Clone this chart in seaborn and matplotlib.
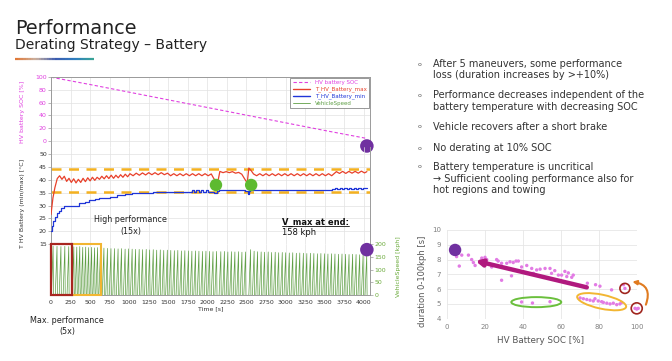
import numpy as np
import matplotlib
matplotlib.use("Agg")
import matplotlib.pyplot as plt
import seaborn as sns
from matplotlib.patches import Rectangle, Ellipse
from matplotlib.lines import Line2D
from matplotlib.collections import LineCollection
from matplotlib.colors import LinearSegmentedColormap
from matplotlib.transforms import ScaledTranslation

sns.set_theme(style="white")
plt.rcParams['font.family'] = ['DejaVu Sans']

# ---------------- data: main time chart ----------------
time_ticks = [0, 250, 500, 750, 1000, 1250, 1500, 1750, 2000, 2250, 2500,
              2750, 3000, 3250, 3500, 3750, 4000]
soc_ticks = [0, 20, 40, 60, 80, 100]
temp_ticks = [15, 20, 25, 30, 35, 40, 45, 50]
speed_ticks = [0, 50, 100, 150, 200]

soc_time = [0, 500, 1000, 1500, 2000, 2500, 3000, 3500, 4040]
soc_pct = [100, 88.5, 76.5, 64.5, 52.5, 40.5, 28.5, 16.5, 4]

tmax_time = [0, 25, 50, 80, 110, 140, 170, 200, 230, 260,
             290, 320, 350, 380, 410, 440, 470, 500, 530, 560,
             590, 620, 650, 680, 710, 740, 770, 800, 830, 860,
             890, 920, 950, 980, 1010, 1050, 1090, 1130, 1170, 1210,
             1250, 1290, 1330, 1370, 1410, 1450, 1490, 1530, 1570, 1610,
             1650, 1690, 1730, 1770, 1810, 1850, 1890, 1930, 1970, 2010,
             2050, 2080, 2110, 2140, 2160, 2200, 2240, 2280, 2320, 2360,
             2400, 2440, 2480, 2510, 2530, 2560, 2590, 2630, 2670, 2710,
             2750, 2790, 2830, 2870, 2910, 2950, 2990, 3030, 3070, 3110,
             3150, 3190, 3230, 3270, 3310, 3350, 3390, 3430, 3470, 3510,
             3550, 3590, 3620, 3650, 3690, 3730, 3770, 3810, 3850, 3890,
             3930, 3970, 4010, 4040]
tmax_val = [26.5, 33.0, 37.0, 40.5, 41.6, 40.2, 41.4, 39.4, 40.6, 39.0,
            40.4, 38.8, 40.2, 39.0, 40.6, 39.3, 40.8, 39.6, 41.0, 39.8,
            41.0, 40.2, 41.4, 40.4, 41.6, 40.5, 41.8, 40.6, 41.8, 40.8,
            42.0, 41.0, 42.2, 41.2, 42.4, 41.6, 42.6, 41.8, 42.7, 41.9,
            42.8, 42.0, 42.8, 42.0, 42.8, 42.0, 42.6, 41.6, 42.4, 41.6,
            42.4, 41.6, 42.4, 41.6, 42.4, 41.6, 42.4, 41.6, 42.4, 41.6,
            42.3, 40.6, 39.4, 40.2, 43.3, 42.8, 43.2, 42.8, 43.2, 42.6,
            42.9, 42.2, 40.2, 38.8, 44.6, 43.6, 42.3, 41.6, 42.4, 41.6,
            42.4, 41.6, 42.4, 41.6, 42.4, 41.6, 42.4, 41.6, 42.4, 41.6,
            42.4, 41.6, 42.4, 41.6, 42.4, 41.6, 42.4, 41.6, 42.4, 41.6,
            42.4, 41.6, 42.4, 43.2, 42.5, 43.3, 42.5, 43.3, 42.6, 43.3,
            42.6, 43.4, 42.7, 43.2]

tmin_time = [0, 15, 30, 50, 75, 100, 130, 165, 360, 430,
             490, 560, 620, 750, 850, 950, 1040, 1300, 1750, 1800,
             1830, 1860, 1890, 1920, 1950, 1980, 2010, 2050, 2090, 2120,
             2150, 2480, 2515, 2530, 2545, 3600, 3630, 3660, 3690, 3720,
             3750, 3780, 3810, 3840, 3870, 3900, 3930, 3960, 3990, 4040]
tmin_val = [20.0, 22.0, 24.0, 25.5, 27.0, 28.0, 29.0, 30.0, 31.0, 31.5,
            32.0, 32.5, 33.0, 33.5, 34.0, 34.5, 35.0, 35.2, 35.4, 35.9,
            35.4, 35.9, 35.4, 35.9, 35.4, 35.9, 35.4, 35.4, 35.0, 35.5,
            36.0, 35.6, 34.3, 35.5, 36.0, 36.6, 37.0, 36.5, 37.0, 36.5,
            37.0, 36.5, 37.0, 36.5, 37.0, 36.5, 37.0, 36.5, 37.0, 37.0]

limit_temps = [44.3, 35.4]

speed_start = [5, 55, 105, 155, 205,
               270, 308, 346, 384, 422, 460, 498, 536, 574, 612,
               655, 700, 745, 790, 836, 880, 926, 970, 1016, 1060,
               1106, 1150, 1196, 1240, 1286, 1330, 1376, 1420, 1466, 1510,
               1556, 1600, 1646, 1690, 1736, 1780, 1826, 1870, 1916, 1960,
               2006, 2050, 2096, 2150, 2196, 2240, 2286, 2330, 2376, 2420,
               2466,
               2530, 2576, 2620, 2666, 2710, 2756, 2800, 2846, 2890, 2936,
               2980, 3026, 3070, 3116, 3160, 3206, 3250, 3296, 3340, 3386,
               3430, 3476, 3520, 3566, 3610, 3656, 3700, 3746, 3790, 3836,
               3880, 3926, 3970, 4016]
speed_peak = [192, 191, 190, 191, 190,
              189, 188, 190, 187, 188, 186, 187, 185, 186, 184,
              184, 183, 182, 182, 181, 182, 180, 181, 180, 179,
              179, 178, 179, 177, 178, 176, 177, 175, 176, 175,
              174, 175, 173, 174, 173, 172, 173, 172, 171, 172,
              171, 170, 171, 170, 171, 169, 170, 169, 170, 168,
              169,
              178, 172, 170, 169, 168, 169, 167, 168, 166, 167,
              166, 165, 166, 164, 165, 164, 163, 164, 163, 162,
              163, 162, 161, 162, 161, 160, 161, 160, 159, 160,
              159, 158, 159, 158]

recover_time = [2110, 2560]
recover_temp = [38.0, 38.0]
end_time = [4040]
end_soc = [-7.8]
end_speed = [178]

series_labels = ["HV battery SOC", "T_HV_Battery_max", "T_HV_Battery_min", "VehicleSpeed"]

# ---------------- data: scatter chart ----------------
scatter_soc = [6.1, 7.9, 5.2, 6.6, 11.4, 13.1, 14.0, 14.9, 18.4, 20.1,
               21.0, 23.6, 26.2, 27.0, 28.8, 28.8, 31.5, 33.2, 34.0, 34.9,
               36.4, 37.6, 39.3, 42.0, 44.6, 45.5, 47.2, 49.0, 51.6, 54.2,
               55.0, 56.7, 58.6, 60.3, 62.0, 63.0, 63.8, 65.6, 66.4, 73.8,
               78.1, 80.4, 86.5, 92.7, 93.5, 70.0, 71.7, 73.5, 75.2, 76.9,
               77.8, 79.5, 81.3, 82.2, 84.0, 85.7, 87.4, 89.2, 90.9, 91.8,
               39.3, 45.0, 54.2, 98.8, 99.7, 100.5]
scatter_dur = [8.42, 8.3, 8.2, 7.56, 8.3, 8.0, 7.8, 7.6, 8.1, 8.15,
               8.0, 7.5, 8.0, 7.9, 7.75, 6.6, 7.75, 7.85, 6.9, 7.8,
               7.9, 7.9, 7.5, 7.6, 7.4, 7.07, 7.3, 7.35, 7.4, 7.4,
               7.07, 7.25, 6.95, 6.95, 7.2, 6.85, 7.1, 6.8, 6.95, 6.4,
               6.3, 6.2, 5.95, 6.3, 6.05, 5.4, 5.35, 5.3, 5.25, 5.2,
               5.35, 5.2, 5.15, 5.1, 5.05, 5.0, 5.05, 4.95, 5.0, 5.1,
               5.13, 5.06, 5.15, 4.7, 4.65, 4.7]
start_soc = [4.4]
start_dur = [8.65]
sc_xticks = [0, 20, 40, 60, 80, 100]
sc_yticks = [4, 5, 6, 7, 8, 9, 10]

bullets = [
    ["After 5 maneuvers, some performance", "loss (duration increases by >+10%)"],
    ["Performance decreases independent of the", "battery temperature with decreasing SOC"],
    ["Vehicle recovers after a short brake"],
    ["No derating at 10% SOC"],
    ["Battery temperature is uncritical", "\u2192 Sufficient cooling performance also for",
     "hot regions and towing"],
]

# ---------------- colours ----------------
MAG = '#e040e0'
RED = '#e8402a'
BLUE = '#1f35d8'
SPEED = '#5f9f45'
SPEED_LBL = '#6aaa3a'
ORANGE = '#f4b120'
PURPLE = '#7030a0'
DOTGREEN = '#5dba30'
GRID = '#e2e2e2'
SPINE = '#9a9a9a'

W_PX, H_PX = 672, 361
fig = plt.figure(figsize=(6.72, 3.61), dpi=100)
fig.patch.set_facecolor('white')


def fx(px):
    return px / W_PX


def fy(py):
    return 1 - py / H_PX


# ---------------- title ----------------
fig.text(fx(15), fy(34.5), "Performance", fontsize=13.8, color='#222222', va='baseline')
fig.text(fx(15), fy(49.5), "Derating Strategy \u2013 Battery", fontsize=10,
         color='#222222', va='baseline')
cmap = LinearSegmentedColormap.from_list(
    'bar', ['#e07a3a', '#c9b0a0', '#3a5bb0', '#2f7fc0', '#3aa890'])
nseg = 30
xs = np.linspace(fx(15), fx(94), nseg + 1)
segs = [[(xs[i], fy(59)), (xs[i + 1], fy(59))] for i in range(nseg)]
lc = LineCollection(segs, colors=[cmap(i / nseg) for i in range(nseg)], lw=1.6,
                    transform=fig.transFigure)
fig.add_artist(lc)

# ---------------- main chart axes ----------------
L = fx(51)
W = (370 - 51) / W_PX
ax_soc = fig.add_axes([L, fy(147), W, 70 / H_PX])
ax_t = fig.add_axes([L, fy(244), W, 97 / H_PX], sharex=ax_soc)
ax_v = fig.add_axes([L, fy(295.3), W, 51.3 / H_PX], sharex=ax_soc)

for ax in (ax_soc, ax_t, ax_v):
    ax.set_facecolor('none')
    ax.set_xlim(0, 4080)
    ax.set_xticks(time_ticks)
    ax.grid(True, axis='x', color=GRID, lw=0.5)
    ax.set_axisbelow(True)
    for s in ax.spines.values():
        s.set_color(SPINE)
        s.set_linewidth(0.7)

ax_soc.spines['bottom'].set_visible(False)
ax_t.spines['top'].set_visible(False)
ax_t.spines['bottom'].set_visible(False)
ax_v.spines['top'].set_visible(False)

ax_soc.tick_params(axis='x', bottom=False, labelbottom=False)
ax_t.tick_params(axis='x', bottom=False, labelbottom=False)

# SOC
ax_soc.set_ylim(-9.4, 100.3)
ax_soc.set_yticks(soc_ticks)
ax_soc.grid(True, axis='y', color=GRID, lw=0.5)
ax_soc.tick_params(axis='y', left=True, labelsize=4.5, length=2, pad=1,
                   labelcolor=MAG, color=SPINE, width=0.5)
sns.lineplot(x=soc_time, y=soc_pct, ax=ax_soc, color=MAG, lw=0.8)
ax_soc.lines[-1].set_dashes([3, 2])
sns.scatterplot(x=end_time, y=end_soc, ax=ax_soc, s=95, color=PURPLE,
                edgecolor='none', clip_on=False, zorder=6)
ax_soc.set_ylabel("HV battery SOC [%]", fontsize=4.5, color=MAG)
ax_soc.yaxis.set_label_coords(-0.082, 0.5)

# temperatures
ax_t.set_ylim(15, 52.8)
ax_t.set_yticks(temp_ticks)
ax_t.grid(True, axis='y', color=GRID, lw=0.5)
ax_t.tick_params(axis='y', left=True, labelsize=4.5, length=2, pad=1,
                 labelcolor='#333333', color=SPINE, width=0.5)
for lt in limit_temps:
    ax_t.axhline(lt, color=ORANGE, lw=1.8, dashes=(4, 3), zorder=2)
sns.lineplot(x=tmax_time, y=tmax_val, ax=ax_t, color=RED, lw=0.9,
             estimator=None, sort=False, zorder=3)
sns.lineplot(x=tmin_time, y=tmin_val, ax=ax_t, color=BLUE, lw=0.9,
             estimator=None, sort=False, drawstyle='steps-post', zorder=3)
sns.scatterplot(x=recover_time, y=recover_temp, ax=ax_t, s=80, color=DOTGREEN,
                edgecolor='none', zorder=6)
ax_t.set_ylabel("T HV Battery (min/max) [\u00b0C]", fontsize=4.5, color='#333333')
ax_t.yaxis.set_label_coords(-0.082, 0.42)
ax_t.text(1016, 22.2, "High performance\n(15x)", fontsize=5.8, ha='center',
          va='center', linespacing=1.3, color='#222222')
vtxt = ax_t.text(2958, 23.6, "V_max at end:", fontsize=6, fontweight='bold',
                 ha='left', va='center', color='#111111')
ax_t.text(2958, 19.3, "158 kph", fontsize=6, ha='left', va='center', color='#111111')

# speed
sp_t, sp_v = [], []
for t0, pk in zip(speed_start, speed_peak):
    sp_t += [t0, t0 + 22, t0 + 27]
    sp_v += [0, pk, 0]
ax_v.set_ylim(0, 200)
sns.lineplot(x=sp_t, y=sp_v, ax=ax_v, color=SPEED, lw=0.5, estimator=None,
             sort=False)
ax_v.yaxis.tick_right()
ax_v.yaxis.set_label_position('right')
ax_v.set_yticks(speed_ticks)
ax_v.tick_params(axis='y', left=False, labelleft=False, right=True, labelright=True,
                 labelsize=4.5, length=2, pad=1, labelcolor=SPEED_LBL,
                 color=SPINE, width=0.5)
ax_v.tick_params(axis='x', labelsize=4.5, length=2, pad=1.5, labelcolor='#333333',
                 color=SPINE, width=0.5)
ax_v.set_ylabel("VehicleSpeed [kph]", fontsize=4.5, color=SPEED_LBL)
ax_v.yaxis.set_label_coords(1.081, 0.55)
ax_v.set_xlabel("Time [s]", fontsize=4.5, color='#333333', labelpad=1)
ax_v.add_patch(Rectangle((270, 0), 371, 200, fill=False, edgecolor='#f2b632',
                         lw=1.5, clip_on=False, zorder=5))
ax_v.add_patch(Rectangle((0, 0), 270, 200, fill=False, edgecolor='#a8261f',
                         lw=1.6, clip_on=False, zorder=6))
sns.scatterplot(x=end_time, y=end_speed, ax=ax_v, s=95, color=PURPLE,
                edgecolor='none', clip_on=False, zorder=7)

# legend
handles = [Line2D([0], [0], color=MAG, lw=0.8, dashes=[3, 2]),
           Line2D([0], [0], color=RED, lw=1.0),
           Line2D([0], [0], color=BLUE, lw=1.0),
           Line2D([0], [0], color=SPEED, lw=0.6)]
leg = ax_soc.legend(handles, series_labels, loc='upper right', fontsize=4,
                    frameon=True, fancybox=False, edgecolor='#888888', framealpha=1,
                    borderaxespad=0.2, handlelength=3.2, labelspacing=0.25,
                    borderpad=0.4, handletextpad=0.8)
leg.get_frame().set_linewidth(0.6)
leg.set_zorder(10)
for txt, c in zip(leg.get_texts(), [MAG, RED, BLUE, SPEED]):
    txt.set_color(c)

fig.text(fx(67), fy(326), "Max. performance\n(5x)", fontsize=5.8, ha='center',
         va='center', linespacing=1.3, color='#222222')

# ---------------- bullets ----------------
bullet_y = [[64, 75.5], [95.5, 107], [127], [148], [167, 178.5, 190]]
for lines, ys in zip(bullets, bullet_y):
    fig.text(fx(420), fy(ys[0]), "o", fontsize=4.5, color='#555555', ha='center',
             va='center')
    for line, y in zip(lines, ys):
        fig.text(fx(433), fy(y), line, fontsize=7, color='#333333', ha='left',
                 va='center')

# ---------------- scatter chart ----------------
ax_s = fig.add_axes([fx(446.7), fy(318.7), 190.6 / W_PX, 88.7 / H_PX])
ax_s.set_facecolor('none')
ax_s.set_xlim(0, 100)
ax_s.set_ylim(4, 10)
ax_s.set_xticks(sc_xticks)
ax_s.set_yticks(sc_yticks)
ax_s.grid(True, color='#e6e6e6', lw=0.6)
ax_s.set_axisbelow(True)
for s in ax_s.spines.values():
    s.set_visible(False)
ax_s.tick_params(axis='both', length=0, labelsize=5, labelcolor='#808080', pad=4)
sns.scatterplot(x=scatter_soc, y=scatter_dur, ax=ax_s, s=6, color='#e27be4',
                edgecolor='none', clip_on=False, zorder=3)
sns.scatterplot(x=start_soc, y=start_dur, ax=ax_s, s=80, color=PURPLE,
                edgecolor='none', clip_on=False, zorder=5)
ax_s.set_xlabel("HV Battery SOC [%]", fontsize=6.3, color='#555555')
ax_s.xaxis.set_label_coords(0.49, -0.2)
ax_s.set_ylabel("duration 0-100kph [s]", fontsize=6, color='#555555')
ax_s.yaxis.set_label_coords(-0.105, 0.42)

ax_s.annotate('', xy=(15.0, 7.92), xytext=(73.5, 6.12),
              arrowprops=dict(arrowstyle='-|>', lw=3.2, color='#b0197e',
                              mutation_scale=9, shrinkA=0, shrinkB=0), zorder=4)
ax_s.add_patch(Ellipse((47, 5.12), 26.2, 0.68, fill=False, edgecolor='#6abf3c',
                       lw=1.4, clip_on=False, zorder=4))


def px_ellipse(ax, cx, cy, w_px, h_px, angle, color, lw):
    tr = fig.dpi_scale_trans + ScaledTranslation(cx, cy, ax.transData)
    e = Ellipse((0, 0), w_px / 100, h_px / 100, angle=angle, fill=False,
                edgecolor=color, lw=lw, transform=tr, clip_on=False, zorder=4)
    ax.add_patch(e)


px_ellipse(ax_s, 81.3, 5.15, 50, 14, -12, '#f2b632', 1.4)
px_ellipse(ax_s, 93.5, 6.05, 10, 10, 0, '#a0261f', 1.2)
px_ellipse(ax_s, 99.7, 4.7, 11, 11, 0, '#a0261f', 1.2)
ax_s.annotate('', xy=(97.4, 6.5), xytext=(104.5, 4.95),
              arrowprops=dict(arrowstyle='-|>', lw=1.5, color='#e07b20',
                              connectionstyle='arc3,rad=0.6', mutation_scale=6,
                              shrinkA=0, shrinkB=0), annotation_clip=False, zorder=4)

# underline of "V_max at end:"
fig.canvas.draw()
bb = vtxt.get_window_extent(renderer=fig.canvas.get_renderer())
inv = fig.transFigure.inverted()
(x0, y0), (x1, _) = inv.transform([(bb.x0, bb.y0), (bb.x1, bb.y0)])
fig.add_artist(Line2D([x0, x1], [y0 + 0.002, y0 + 0.002], color='#111111', lw=0.6,
                      transform=fig.transFigure))

fig.savefig("out.png", dpi=100)
